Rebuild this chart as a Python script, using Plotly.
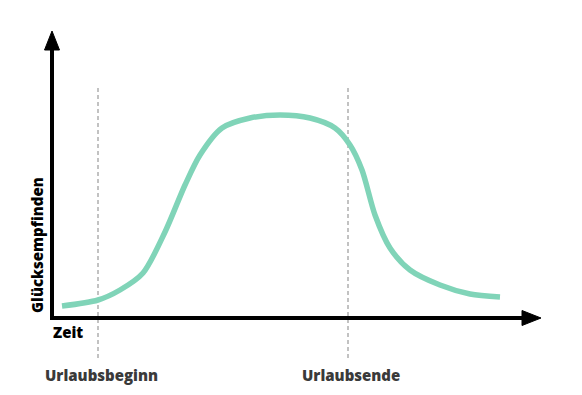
import plotly.graph_objects as go

# Happiness curve over time (arbitrary units; origin at the axes' corner)
zeit = [10, 46, 68, 91, 113, 133, 148, 170, 198, 228, 258, 283, 298, 310, 323, 338, 358, 388, 418, 448]
glueck = [12, 18, 28, 45, 86, 133, 163, 190, 200, 203, 200, 190, 173, 148, 103, 70, 48, 33, 24, 21]

marker_x = [46, 296]
marker_labels = ["Urlaubsbeginn", "Urlaubsende"]

x_label = "Zeit"
y_label = "Glücksempfinden"

FONT = "Open Sans"
fig = go.Figure()
fig.add_trace(go.Scatter(x=zeit, y=glueck, mode="lines",
                         line=dict(color="#80d4b8", width=5.5, shape="spline", smoothing=0.8),
                         hoverinfo="skip", showlegend=False))

shapes = []
for mx in marker_x:
    shapes.append(dict(type="line", x0=mx, x1=mx, y0=-40, y1=230, xref="x", yref="y",
                       line=dict(color="#c2c2c2", width=2, dash="4px,3px"), layer="below"))
# axes
shapes.append(dict(type="line", x0=0, x1=0, y0=-2, y1=272, line=dict(color="black", width=4)))
shapes.append(dict(type="line", x0=-2, x1=474, y0=0, y1=0, line=dict(color="black", width=4)))
shapes.append(dict(type="path", path="M -7.5,268 L 0,287 L 7.5,268 Z", fillcolor="black", line=dict(color="black", width=1)))
shapes.append(dict(type="path", path="M 470,-7.5 L 489,0 L 470,7.5 Z", fillcolor="black", line=dict(color="black", width=1)))

annotations = []
for mx, lab in zip(marker_x, marker_labels):
    annotations.append(dict(x=mx + 3, y=-57, text=lab, showarrow=False,
                            font=dict(family=FONT, size=15, color="#3a3a3a", weight=800)))
annotations.append(dict(x=16, y=-14, text=x_label, showarrow=False,
                        font=dict(family=FONT, size=15, color="black", weight=800)))
annotations.append(dict(x=-15, y=73, text=y_label, showarrow=False, textangle=-90,
                        font=dict(family=FONT, size=15, color="black", weight=800)))

# page body has an 8px margin; shift ranges so the drawing lands where the reference has it
fig.update_layout(
    width=582, height=395,
    margin=dict(l=0, r=0, t=0, b=0),
    paper_bgcolor="white", plot_bgcolor="white",
    xaxis=dict(range=[-44, 538], visible=False, fixedrange=True),
    yaxis=dict(range=[-85, 310], visible=False, fixedrange=True),
    shapes=shapes, annotations=annotations,
)
fig.write_html("out.html")
